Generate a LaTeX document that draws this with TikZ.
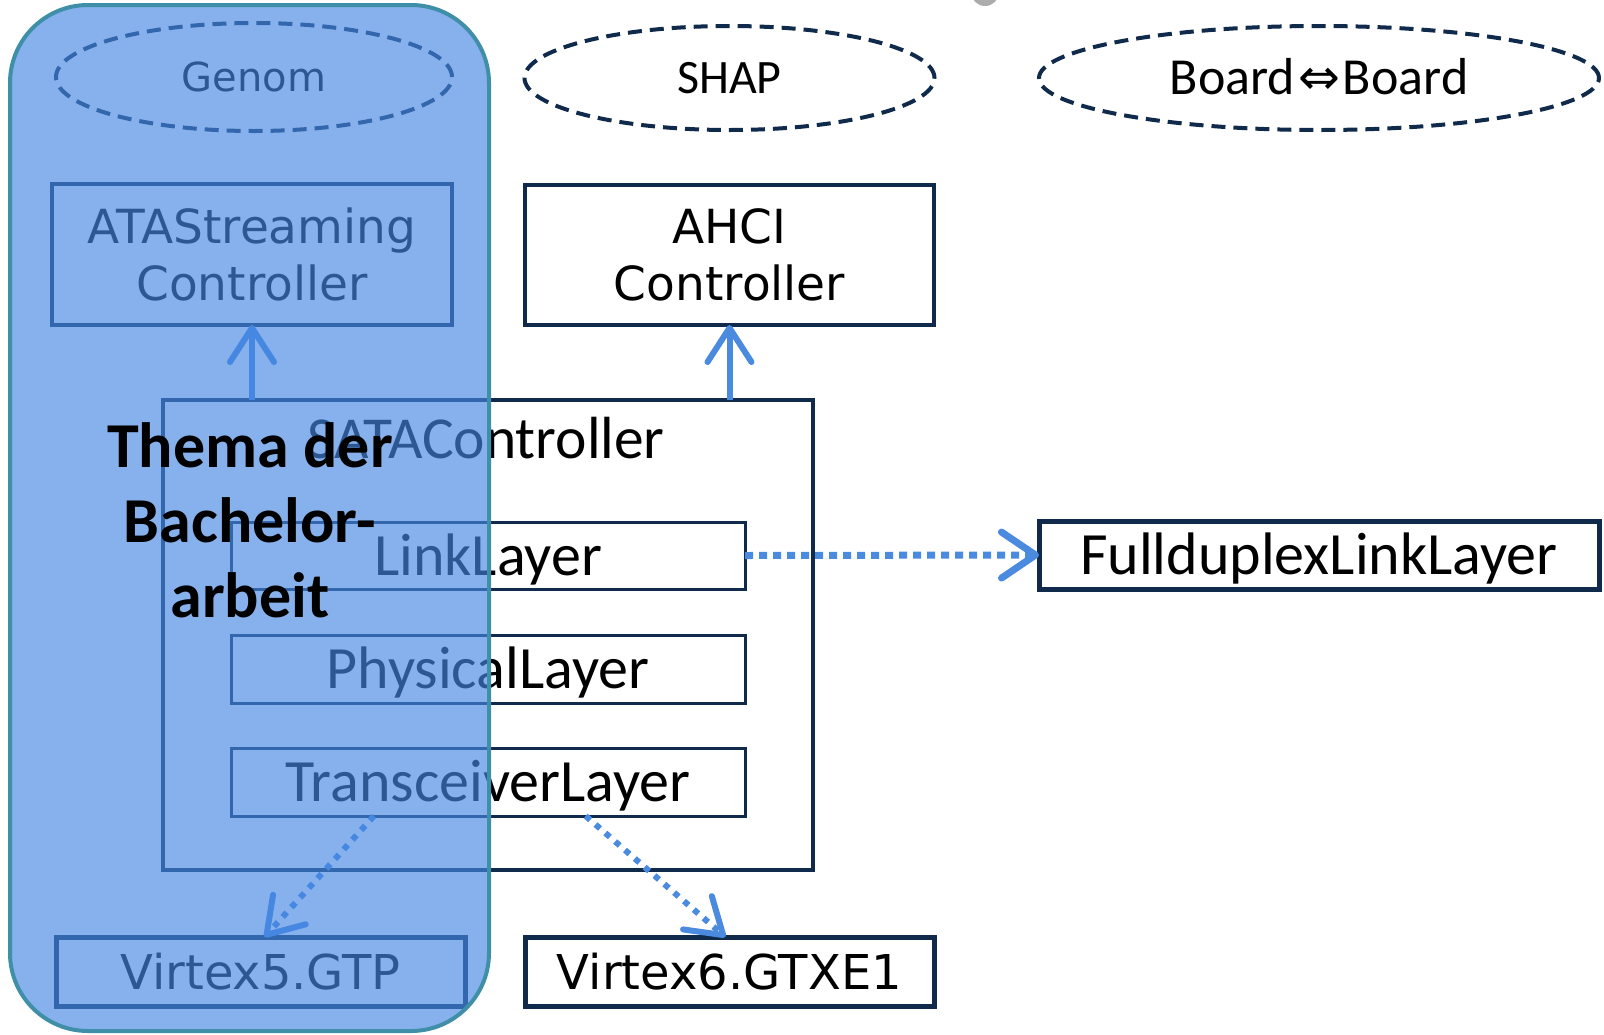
\documentclass[tikz,border=0pt]{standalone}
\usepackage{fontspec}
\setmainfont{Carlito}
\newfontfamily\djv{DejaVu Sans}
\newfontfamily\cbl{Carlito}
\usetikzlibrary{shapes.geometric,arrows.meta,calc}
\definecolor{navy}{RGB}{16,42,76}
\definecolor{arrowblue}{RGB}{74,139,224}
\definecolor{ovl}{RGB}{69,135,226}
\definecolor{tealb}{RGB}{63,143,169}
\begin{document}
\begin{tikzpicture}[x=1pt,y=-1pt,
  box/.style={draw=navy,line width=4pt,rectangle,inner sep=0pt,outer sep=0pt,text=black},
  scopeell/.style={ellipse,draw=navy,line width=4pt,dash pattern=on 14pt off 8pt,inner sep=0pt,text=black},
  cap/.style={text height=#1,text depth=0pt},
  fcal/.style={font=\cbl\fontsize{60}{70}\selectfont},
  fdv/.style={font=\djv\fontsize{47}{57}\selectfont},
  solidarrow/.style={draw=arrowblue,line width=6pt,-{Straight Barb[length=34pt,width=44pt,round]}},
  dotarrow/.style={draw=arrowblue,line width=6pt,dash pattern=on 6pt off 7pt,-{Straight Barb[length=34pt,width=44pt,round]}},
  hdotarrow/.style={draw=arrowblue,line width=7pt,dash pattern=on 8pt off 6pt,-{Straight Barb[length=34pt,width=46pt,round]}}]
\useasboundingbox (0,0) rectangle (1604,1034);
% grey piece at the top edge
\fill[gray!65] (985,-8) circle (14pt);
% ellipses
\node[scopeell,minimum width=396pt,minimum height=108pt,font=\djv\fontsize{40}{48}\selectfont,cap=29pt] (genom) at (254,77) {Genom};
\node[scopeell,minimum width=410pt,minimum height=104pt,font=\cbl\fontsize{48}{56}\selectfont,cap=31pt] (shap) at (729.5,78) {SHAP};
\node[scopeell,minimum width=560pt,minimum height=104pt,font=\cbl\fontsize{52}{60}\selectfont,cap=33pt] (board) at (1319,78) {Board\hspace{3pt}{\djv\fontsize{50}{56}\selectfont ⇔}\hspace{3pt}Board};
% upper boxes
\node[box,minimum width=400pt,minimum height=141pt,fdv,align=center] (ata) at (252,254.5) {ATAStreaming\\Controller};
\node[box,minimum width=409pt,minimum height=140pt,fdv,align=center] (ahci) at (729.5,255) {AHCI\\Controller};
% SATA controller
\node[box,minimum width=650pt,minimum height=470pt] (sata) at (488,635) {};
\node[anchor=base,font=\cbl\fontsize{59.5}{68}\selectfont,text=black] (satalabel) at (486,458) {SATAController};
\node[box,line width=3pt,minimum width=514pt,minimum height=67pt,fcal,cap=39pt] (link) at (488,555.5) {LinkLayer};
\node[box,line width=3pt,minimum width=514pt,minimum height=68pt,fcal,cap=39pt] (phys) at (488,669) {PhysicalLayer};
\node[box,line width=3pt,minimum width=514pt,minimum height=68pt,fcal,cap=39pt] (trans) at (488,782) {TransceiverLayer};
% right box
\node[box,line width=5pt,minimum width=560pt,minimum height=68pt,fcal,cap=39pt] (full) at (1319,555) {FullduplexLinkLayer};
% bottom boxes
\node[box,line width=5pt,minimum width=409pt,minimum height=69pt,font=\djv\fontsize{48}{56}\selectfont,cap=35pt] (v5) at (260.5,971.5) {Virtex5.GTP};
\node[box,line width=5pt,minimum width=409pt,minimum height=69pt,font=\djv\fontsize{48}{56}\selectfont,cap=35pt] (v6) at (729.5,971.5) {Virtex6.GTXE1};
% connectors
\draw[solidarrow] (ata.south |- sata.north) -- (ata.south);
\draw[solidarrow] (ahci.south |- sata.north) -- (ahci.south);
\draw[hdotarrow] (link.east) -- (full.west);
\draw[dotarrow] ($(trans.south west)!0.278!(trans.south east)$) -- ($(v5.north west)!0.51!(v5.north east)$);
\draw[dotarrow] ($(trans.south west)!0.69!(trans.south east)$) -- ($(v6.north west)!0.49!(v6.north east)$);
% thesis overlay
\node[draw=tealb,line width=4pt,fill=ovl,fill opacity=0.65,draw opacity=1,rounded corners=78pt,minimum width=479pt,minimum height=1026pt,inner sep=0pt] (thesis) at (249.5,518) {};
\node[font=\cbl\bfseries\fontsize{64}{75}\selectfont,align=center,text=black] (thema) at (250,520) {Thema der\\Bachelor-\\arbeit};
\end{tikzpicture}
\end{document}
